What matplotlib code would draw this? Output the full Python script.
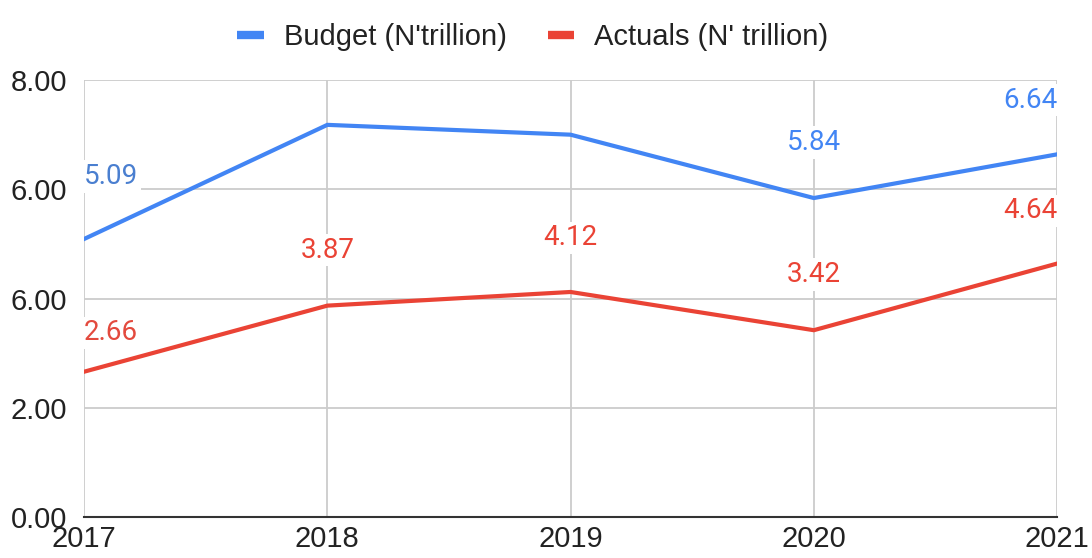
import matplotlib.pyplot as plt

years = [2017, 2018, 2019, 2020, 2021]
budget = [5.09, 7.18, 7.00, 5.84, 6.64]
actuals = [2.66, 3.87, 4.12, 3.42, 4.64]
budget_labels = ["5.09", None, None, "5.84", "6.64"]
actual_labels = ["2.66", "3.87", "4.12", "3.42", "4.64"]
ytick_vals = [0, 2, 4, 6, 8]
ytick_text = ["0.00", "2.00", "6.00", "6.00", "8.00"]

blue = "#4285f4"
red = "#ea4335"

plt.rcParams["font.family"] = ["Liberation Sans", "DejaVu Sans"]

fig = plt.figure(figsize=(10.92, 5.58), dpi=100)
ax = fig.add_axes([0.077, 0.0735, 0.891, 0.783])

ax.plot(years, budget, color=blue, lw=3, label="Budget (N'trillion)", zorder=3, solid_joinstyle="miter")
ax.plot(years, actuals, color=red, lw=3, label="Actuals (N' trillion)", zorder=3, solid_joinstyle="miter")

ax.set_xlim(2017, 2021)
ax.set_ylim(0, 8)
ax.set_xticks(years)
ax.set_xticklabels([str(y) for y in years])
ax.set_yticks(ytick_vals)
ax.set_yticklabels(ytick_text)
ax.tick_params(axis="both", length=0, labelsize=21, labelcolor="#222222")
ax.tick_params(axis="y", pad=12)
ax.tick_params(axis="x", pad=6)

ax.grid(True, color="#cccccc", lw=1.3, zorder=0)
for s in ["top", "right", "left"]:
    ax.spines[s].set_visible(False)
ax.spines["bottom"].set_color("#333333")
ax.spines["bottom"].set_linewidth(1.5)


def put_labels(vals, labels, colors, offsets):
    n = len(vals)
    for i, (y, v, t) in enumerate(zip(years, vals, labels)):
        if t is None:
            continue
        ha = "center"
        if i == 0:
            ha = "left"
        elif i == n - 1:
            ha = "right"
        ax.annotate(t, (y, v), xytext=(0, offsets[i]), textcoords="offset points",
                    ha=ha, va="center", fontsize=20, color=colors[i], family=["Roboto", "DejaVu Sans"],
                    bbox=dict(boxstyle="square,pad=0.1", fc="white", ec="none"),
                    zorder=4, annotation_clip=False)


put_labels(budget, budget_labels, ["#4a7fd0", blue, blue, blue, blue], [45, 40, 40, 40, 39])
put_labels(actuals, actual_labels, ["#e34a3e", red, red, red, red], [28, 40, 39, 40, 38])

leg = fig.legend(loc="upper center", bbox_to_anchor=(0.488, 1.005), ncol=2, frameon=False,
                 fontsize=21, handlelength=0.9, handletextpad=0.7, columnspacing=1.4)
for h in leg.get_lines():
    h.set_linewidth(6)
    h.set_solid_capstyle("butt")
for t in leg.get_texts():
    t.set_color("#222222")

fig.savefig("out.png", dpi=100)
